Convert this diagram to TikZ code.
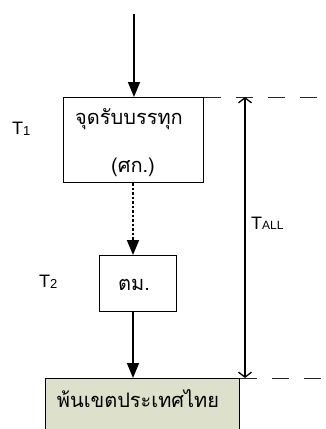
\documentclass[tikz,border=0pt]{standalone}
\usepackage{fontspec}
\setmainfont{Liberation Sans}
\newfontfamily\thaifont[Script=Thai]{Loma}
\usetikzlibrary{arrows.meta}
\definecolor{boxfill}{HTML}{DDE0CB}
\tikzset{
  box/.style={draw=black, line width=1pt, inner sep=0pt},
  thai/.style={font=\thaifont\fontsize{20}{20}\selectfont, inner sep=0pt},
  tlab/.style={font=\fontsize{18}{18}\selectfont, inner sep=0pt, anchor=west},
  flow/.style={line width=1.6pt, -{Triangle[length=15pt,width=12pt]}},
  dflow/.style={line width=1.8pt, dash pattern=on 2.5pt off 2pt, -{Triangle[length=15pt,width=12pt]}},
  guide/.style={line width=1pt, dash pattern=on 17pt off 15pt, draw=black!85},
  dim/.style={line width=1.3pt, {Straight Barb[length=5pt,width=13pt]}-{Straight Barb[length=5pt,width=13pt]}}
}
\newcommand{\Tsub}[1]{T\raisebox{-1.5pt}{\fontsize{13}{13}\selectfont #1}}
\begin{document}
\begin{tikzpicture}[x=1pt,y=-1pt]
\useasboundingbox (0,0) rectangle (326,429);
\begin{scope}
\clip (0,0) rectangle (326,429);
% bottom box
\node[box, fill=boxfill, minimum width=194pt, minimum height=70pt, anchor=north west] (border) at (45,378) {};
\end{scope}
\node[thai] (bordertxt) at (138,399) {พ้นเขตประเทศไทย};
% box 1
\node[box, minimum width=140pt, minimum height=85pt, anchor=north west] (b1) at (63,97) {};
\node[thai] (b1a) at (129,119) {จุดรับบรรทุก};
\node[thai] (b1b) at (133,167) {(ศก.)};
% box 2
\node[box, minimum width=77pt, minimum height=56pt, anchor=north west] (b2) at (99,255) {};
\node[thai] (b2t) at (134,285) {ตม.};
% arrows
\coordinate (start) at (134,14);
\draw[flow] (start) -- (start |- b1.north);
\draw[dflow] (b1.south -| 133,0) -- (b2.north -| 133,0);
\draw[flow] (b2.south -| 133,0) -- (border.north -| 133,0);
% guides
\coordinate (g1e) at (326,97);
\coordinate (g2e) at (326,378);
\draw[guide] (b1.north east) -- (g1e);
\draw[guide] (border.north east) -- (g2e);
% dimension
\coordinate (d1) at (245,97);
\coordinate (d2) at (245,378);
\draw[dim] (d1) -- (d2);
% labels
\node[tlab] (tall) at (251,223) {T\raisebox{0pt}{\fontsize{12}{12}\selectfont ALL}};
\node[tlab] (t1) at (12,129) {\Tsub{1}};
\node[tlab] (t2) at (39,282) {\Tsub{2}};
\end{tikzpicture}
\end{document}
